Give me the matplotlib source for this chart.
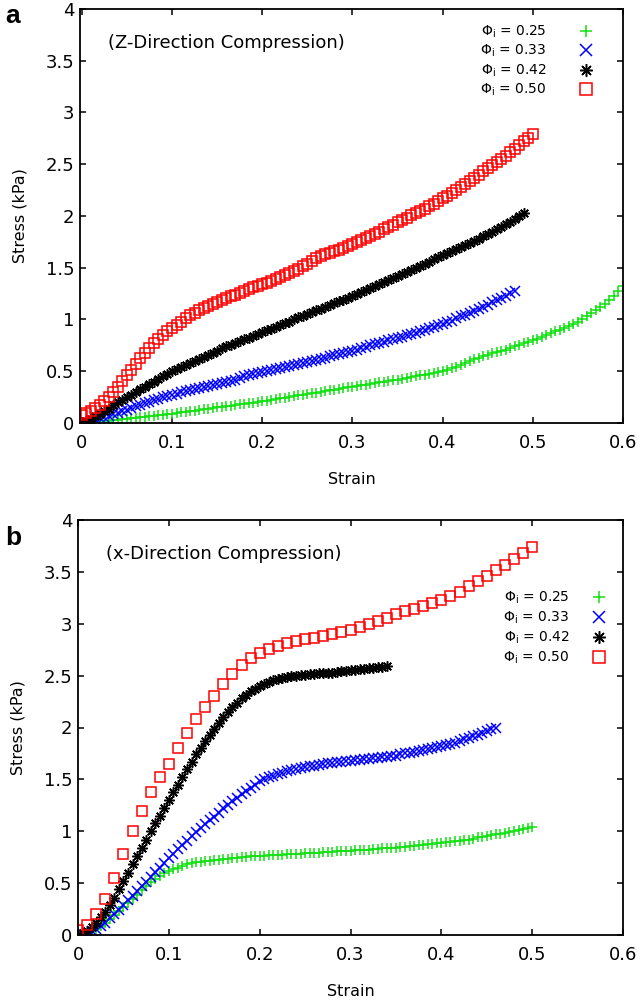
import numpy as np
import matplotlib
matplotlib.use('Agg')
import matplotlib.pyplot as plt
from matplotlib.ticker import FuncFormatter, MultipleLocator

plt.rcParams['font.family'] = ['DejaVu Sans']
plt.rcParams['mathtext.default'] = 'regular'

# ---- panel a: Z-direction compression (strain sampled every 0.005) ----
a_stress_025 = [0.000, 0.004, 0.008, 0.012, 0.016, 0.020, 0.024, 0.028, 0.032, 0.036,
                0.040, 0.045, 0.050, 0.055, 0.060, 0.065, 0.070, 0.075, 0.080, 0.085,
                0.090, 0.096, 0.102, 0.108, 0.114, 0.120, 0.126, 0.132, 0.138, 0.144,
                0.150, 0.156, 0.162, 0.168, 0.174, 0.180, 0.186, 0.192, 0.198, 0.204,
                0.210, 0.217, 0.224, 0.231, 0.238, 0.245, 0.252, 0.259, 0.266, 0.273,
                0.280, 0.287, 0.294, 0.301, 0.308, 0.315, 0.322, 0.329, 0.336, 0.343,
                0.350, 0.357, 0.364, 0.371, 0.378, 0.385, 0.392, 0.399, 0.406, 0.413,
                0.420, 0.428, 0.436, 0.444, 0.452, 0.460, 0.468, 0.476, 0.484, 0.492,
                0.500, 0.515, 0.530, 0.545, 0.560, 0.580, 0.600, 0.615, 0.630, 0.645,
                0.660, 0.675, 0.690, 0.700, 0.710, 0.725, 0.740, 0.755, 0.770, 0.785,
                0.800, 0.815, 0.830, 0.850, 0.870, 0.885, 0.900, 0.920, 0.940, 0.960,
                0.980, 1.005, 1.030, 1.060, 1.090, 1.120, 1.150, 1.190, 1.230, 1.275,
                1.320]
a_stress_033 = [0.000, 0.010, 0.020, 0.035, 0.050, 0.060, 0.070, 0.085, 0.100, 0.115,
                0.130, 0.145, 0.160, 0.175, 0.190, 0.205, 0.220, 0.235, 0.250, 0.260,
                0.270, 0.285, 0.300, 0.310, 0.320, 0.330, 0.340, 0.350, 0.360, 0.370,
                0.380, 0.390, 0.400, 0.410, 0.420, 0.435, 0.450, 0.460, 0.470, 0.480,
                0.490, 0.500, 0.510, 0.520, 0.530, 0.540, 0.550, 0.560, 0.570, 0.580,
                0.590, 0.600, 0.610, 0.620, 0.630, 0.645, 0.660, 0.670, 0.680, 0.690,
                0.700, 0.710, 0.720, 0.735, 0.750, 0.760, 0.770, 0.785, 0.800, 0.810,
                0.820, 0.835, 0.850, 0.860, 0.870, 0.885, 0.900, 0.915, 0.930, 0.945,
                0.960, 0.975, 0.990, 1.010, 1.030, 1.045, 1.060, 1.080, 1.100, 1.120,
                1.140, 1.165, 1.190, 1.210, 1.230, 1.255,
                1.280]
a_stress_042 = [0.000, 0.020, 0.040, 0.065, 0.090, 0.115, 0.140, 0.170, 0.200, 0.225,
                0.250, 0.275, 0.300, 0.325, 0.350, 0.375, 0.400, 0.425, 0.450, 0.475,
                0.500, 0.520, 0.540, 0.560, 0.580, 0.600, 0.620, 0.640, 0.660, 0.680,
                0.700, 0.720, 0.740, 0.755, 0.770, 0.790, 0.810, 0.825, 0.840, 0.860,
                0.880, 0.895, 0.910, 0.930, 0.950, 0.965, 0.980, 1.000, 1.020, 1.035,
                1.050, 1.070, 1.090, 1.105, 1.120, 1.140, 1.160, 1.175, 1.190, 1.210,
                1.230, 1.250, 1.270, 1.285, 1.300, 1.320, 1.340, 1.360, 1.380, 1.400,
                1.420, 1.440, 1.460, 1.480, 1.500, 1.520, 1.540, 1.560, 1.580, 1.600,
                1.620, 1.640, 1.660, 1.680, 1.700, 1.720, 1.740, 1.760, 1.780, 1.805,
                1.830, 1.850, 1.870, 1.895, 1.920, 1.945, 1.970, 2.000,
                2.030]
a_stress_050 = [0.080, 0.100, 0.120, 0.145, 0.170, 0.210, 0.250, 0.300, 0.350, 0.405,
                0.460, 0.515, 0.570, 0.625, 0.680, 0.725, 0.770, 0.810, 0.850, 0.885,
                0.920, 0.950, 0.980, 1.010, 1.040, 1.065, 1.090, 1.110, 1.130, 1.150,
                1.170, 1.190, 1.210, 1.225, 1.240, 1.260, 1.280, 1.295, 1.310, 1.325,
                1.340, 1.355, 1.370, 1.390, 1.410, 1.430, 1.450, 1.470, 1.490, 1.515,
                1.540, 1.565, 1.590, 1.610, 1.630, 1.645, 1.660, 1.675, 1.690, 1.710,
                1.730, 1.750, 1.770, 1.790, 1.810, 1.830, 1.850, 1.870, 1.890, 1.915,
                1.940, 1.960, 1.980, 2.005, 2.030, 2.050, 2.070, 2.095, 2.120, 2.145,
                2.170, 2.195, 2.220, 2.250, 2.280, 2.310, 2.340, 2.370, 2.400, 2.430,
                2.460, 2.490, 2.520, 2.550, 2.580, 2.615, 2.650, 2.685, 2.720, 2.755,
                2.790]

# ---- panel b: x-direction compression ----
b_stress_025 = [0.000, 0.010, 0.020, 0.040, 0.060, 0.090, 0.120, 0.155, 0.190, 0.230,
                0.270, 0.310, 0.350, 0.390, 0.430, 0.470, 0.510, 0.540, 0.570, 0.595,
                0.620, 0.635, 0.650, 0.665, 0.680, 0.690, 0.700, 0.705, 0.710, 0.715,
                0.720, 0.725, 0.730, 0.735, 0.740, 0.745, 0.750, 0.755, 0.760, 0.760,
                0.760, 0.765, 0.770, 0.770, 0.770, 0.775, 0.780, 0.780, 0.780, 0.785,
                0.790, 0.790, 0.790, 0.795, 0.800, 0.800, 0.800, 0.805, 0.810, 0.810,
                0.810, 0.815, 0.820, 0.820, 0.820, 0.825, 0.830, 0.835, 0.840, 0.840,
                0.840, 0.845, 0.850, 0.855, 0.860, 0.865, 0.870, 0.875, 0.880, 0.885,
                0.890, 0.895, 0.900, 0.905, 0.910, 0.915, 0.920, 0.930, 0.940, 0.945,
                0.950, 0.960, 0.970, 0.975, 0.980, 0.990, 1.000, 1.010, 1.020, 1.030,
                1.040]
b_stress_033 = [0.000, 0.010, 0.020, 0.040, 0.060, 0.090, 0.120, 0.160, 0.200, 0.245,
                0.290, 0.335, 0.380, 0.425, 0.470, 0.515, 0.560, 0.605, 0.650, 0.695,
                0.740, 0.785, 0.830, 0.870, 0.910, 0.950, 0.990, 1.030, 1.070, 1.105,
                1.140, 1.180, 1.220, 1.255, 1.290, 1.325, 1.360, 1.390, 1.420, 1.450,
                1.480, 1.500, 1.520, 1.535, 1.550, 1.565, 1.580, 1.590, 1.600, 1.610,
                1.620, 1.625, 1.630, 1.640, 1.650, 1.655, 1.660, 1.665, 1.670, 1.675,
                1.680, 1.685, 1.690, 1.695, 1.700, 1.705, 1.710, 1.715, 1.720, 1.725,
                1.730, 1.740, 1.750, 1.755, 1.760, 1.770, 1.780, 1.790, 1.800, 1.810,
                1.820, 1.830, 1.840, 1.855, 1.870, 1.885, 1.900, 1.915, 1.930, 1.950,
                1.970, 1.985, 2.000]
b_stress_042 = [0.000, 0.015, 0.040, 0.080, 0.120, 0.170, 0.220, 0.290, 0.360, 0.440,
                0.520, 0.600, 0.680, 0.760, 0.840, 0.920, 1.000, 1.075, 1.150, 1.225,
                1.300, 1.375, 1.450, 1.525, 1.600, 1.670, 1.740, 1.805, 1.870, 1.930,
                1.990, 2.045, 2.100, 2.150, 2.200, 2.240, 2.280, 2.315, 2.350, 2.375,
                2.400, 2.420, 2.440, 2.455, 2.470, 2.480, 2.490, 2.495, 2.500, 2.505,
                2.510, 2.515, 2.520, 2.525, 2.530, 2.530, 2.530, 2.535, 2.540, 2.545,
                2.550, 2.555, 2.560, 2.565, 2.570, 2.575, 2.580, 2.585, 2.590]
# red series in panel b is sampled every 0.01
b_stress_050 = [0.05, 0.10, 0.20, 0.35, 0.55, 0.78, 1.00, 1.20, 1.38, 1.52,
                1.65, 1.80, 1.95, 2.08, 2.20, 2.30, 2.42, 2.52, 2.60, 2.67,
                2.72, 2.76, 2.79, 2.81, 2.83, 2.85, 2.86, 2.88, 2.90, 2.92,
                2.94, 2.97, 3.00, 3.03, 3.06, 3.09, 3.12, 3.14, 3.17, 3.20,
                3.23, 3.27, 3.31, 3.36, 3.41, 3.46, 3.52, 3.57, 3.62, 3.68,
                3.74]


def strain_axis(values, step):
    # strain readings are taken at a fixed step starting from 0
    return np.round(np.arange(len(values)) * step, 3)


phi_labels = ['0.25', '0.33', '0.42', '0.50']
colors = ['#11e011', '#0000ff', '#000000', '#ff0000']
markers = ['+', 'x', (8, 2, 0), 's']


def fmt(v, pos):
    return '%g' % v


def draw_panel(ax, strains, stresses, title, xmin, leg_xy, leg_pad, leg_space):
    for s, t, c, m, lab in zip(strains, stresses, colors, markers, phi_labels):
        kw = dict(linestyle='none', marker=m, color=c, markersize=7.5,
                  markeredgewidth=1.1, label='Φ$_\\mathregular{i}$ = ' + lab)
        if m == 's':
            kw.update(markerfacecolor='none', markeredgecolor=c, markersize=7)
        ax.plot(s, t, **kw)
    ax.set_xlim(xmin, 0.6)
    ax.set_ylim(0, 4)
    ax.xaxis.set_major_locator(MultipleLocator(0.1))
    ax.yaxis.set_major_locator(MultipleLocator(0.5))
    ax.xaxis.set_major_formatter(FuncFormatter(fmt))
    ax.yaxis.set_major_formatter(FuncFormatter(fmt))
    ax.tick_params(direction='in', top=True, right=True, length=4, width=1.1,
                   labelsize=13)
    ax.tick_params(axis='x', pad=8)
    ax.tick_params(axis='y', pad=4)
    for sp in ax.spines.values():
        sp.set_linewidth(1.3)
    ax.set_xlabel('Strain', fontsize=11.5)
    ax.set_ylabel('Stress (kPa)', fontsize=11.5)
    ax.xaxis.set_label_coords(0.5, -0.118)
    ax.yaxis.set_label_coords(-0.096, 0.5)
    ax.text(0.052, 0.918, title, transform=ax.transAxes, fontsize=13,
            va='center', ha='left')
    ax.legend(loc='upper left', bbox_to_anchor=leg_xy, markerfirst=False,
              frameon=False, fontsize=10, borderpad=0, borderaxespad=0,
              handletextpad=leg_pad, labelspacing=leg_space, handlelength=2.0,
              markerscale=1.2)


fig = plt.figure(figsize=(6.41, 10.02), dpi=100)
ax_a = fig.add_axes([80 / 641, 1 - 423 / 1002, 543 / 641, 414 / 1002])
ax_b = fig.add_axes([78 / 641, 1 - 935 / 1002, 545 / 641, 415 / 1002])

draw_panel(ax_a,
           [strain_axis(a_stress_025, 0.005), strain_axis(a_stress_033, 0.005),
            strain_axis(a_stress_042, 0.005), strain_axis(a_stress_050, 0.005)],
           [a_stress_025, a_stress_033, a_stress_042, a_stress_050],
           '(Z-Direction Compression)', -0.002, (0.737, 0.965), 1.8, 0.22)
draw_panel(ax_b,
           [strain_axis(b_stress_025, 0.005), strain_axis(b_stress_033, 0.005),
            strain_axis(b_stress_042, 0.005), strain_axis(b_stress_050, 0.01)],
           [b_stress_025, b_stress_033, b_stress_042, b_stress_050],
           '(x-Direction Compression)', 0.0, (0.78, 0.832), 1.1, 0.26)

fig.text(0.008, 0.977, 'a', fontsize=19, fontweight='bold',
         family='Liberation Sans', va='baseline')
fig.text(0.008, 0.456, 'b', fontsize=19, fontweight='bold',
         family='Liberation Sans', va='baseline')

fig.savefig('out.png', dpi=100, facecolor='white')
